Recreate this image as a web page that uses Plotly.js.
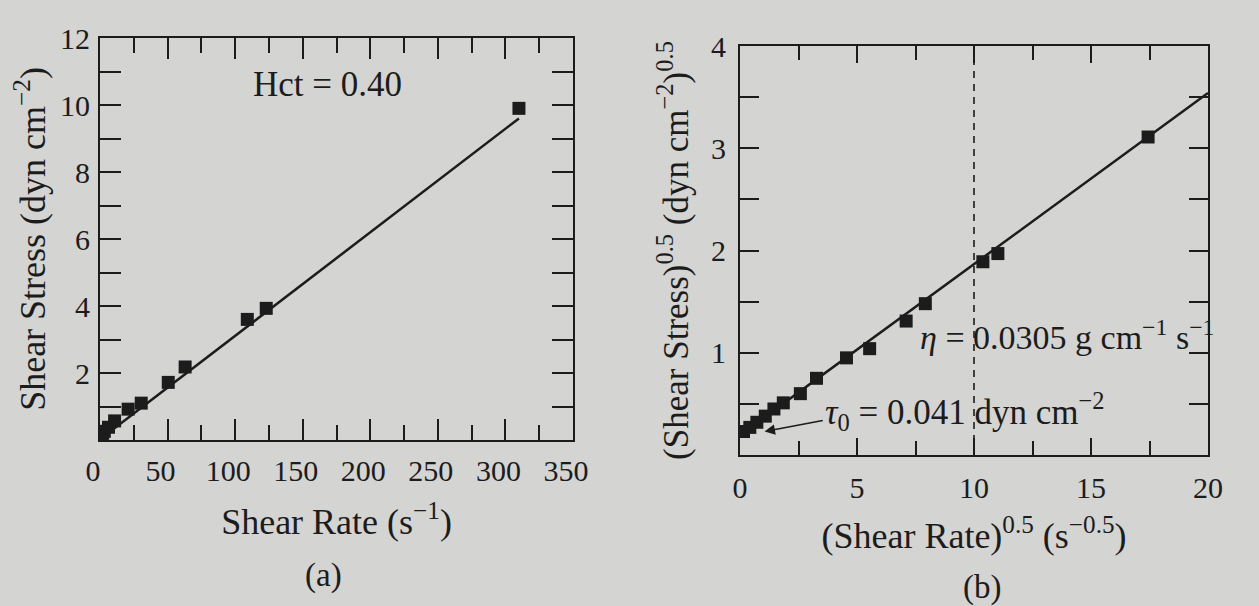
<!DOCTYPE html>
<html>
<head>
<meta charset="utf-8">
<script src="https://cdn.plot.ly/plotly-3.0.1.min.js"></script>
<style>
  html, body { margin: 0; padding: 0; background: #d4d4d2; }
  #chart { width: 1259px; height: 606px; }
</style>
</head>
<body>
<div id="chart"></div>
<script>
// ---- Data ----
// (a) Shear stress vs shear rate, Hct = 0.40
const shearRateA   = [0.02, 0.14, 0.45, 1.0, 2.0, 3.2, 6.3, 10.8, 20.8, 30.5, 50.5, 63, 109, 123, 310];
const shearStressA = [0.05, 0.07, 0.10, 0.14, 0.20, 0.26, 0.38, 0.57, 0.92, 1.10, 1.72, 2.18, 3.60, 3.93, 9.9];
const fitRateA     = [0, 310];
const fitStressA   = [0.02, 9.6];

// (b) Casson plot: (shear stress)^0.5 vs (shear rate)^0.5
const rootRateB    = [0.15, 0.42, 0.72, 1.08, 1.45, 1.85, 2.58, 3.27, 4.55, 5.54, 7.10, 7.92, 10.38, 11.02, 17.44];
const rootStressB  = [0.23, 0.27, 0.32, 0.38, 0.45, 0.51, 0.60, 0.75, 0.95, 1.04, 1.31, 1.48, 1.89, 1.97, 3.11];
const fitRootRateB   = [0.1, 20];
const fitRootStressB = [0.21, 3.54];
const referenceRootRate = 10;

// Tick labels
const xTickValsA = [0, 50, 100, 150, 200, 250, 300, 350];
const yTickValsA = [2, 4, 6, 8, 10, 12];
const xTickValsB = [0, 5, 10, 15, 20];
const yTickValsB = [1, 2, 3, 4];

// Annotation texts
const hctLabel = 'Hct = 0.40';
const etaLabel = '<i>η</i> = 0.0305 g cm<sup>−1</sup> s<sup>−1</sup>';
const tauLabel = '<i>τ</i><sub>0</sub> = 0.041 dyn cm<sup>−2</sup>';

const ink = '#1c1c1c';
const W = 1259, H = 606;
const M = {l: 70, r: 40, t: 30, b: 10};
const PW = W - M.l - M.r, PH = H - M.t - M.b;
const fx = px => (px - M.l) / PW;          // pixel column -> paper fraction
const fy = py => (H - M.b - py) / PH;      // pixel row -> paper fraction
const titleSize = 36;

function axisBase(extra) {
  return Object.assign({
    showline: true, mirror: 'ticks', linecolor: ink, linewidth: 2,
    ticks: 'inside', tickwidth: 2, tickcolor: ink,
    showgrid: false, zeroline: false, fixedrange: true, automargin: true,
    tickfont: {size: 30, color: ink}
  }, extra);
}

const traces = [
  {x: fitRateA, y: fitStressA, xaxis: 'x', yaxis: 'y', mode: 'lines',
   line: {color: ink, width: 2.5}, hoverinfo: 'skip'},
  {x: shearRateA, y: shearStressA, xaxis: 'x', yaxis: 'y', mode: 'markers',
   marker: {symbol: 'square', size: 13, color: ink}},
  {x: fitRootRateB, y: fitRootStressB, xaxis: 'x2', yaxis: 'y2', mode: 'lines',
   line: {color: ink, width: 2.5}, hoverinfo: 'skip'},
  {x: rootRateB, y: rootStressB, xaxis: 'x2', yaxis: 'y2', mode: 'markers',
   marker: {symbol: 'square', size: 13, color: ink}}
];

const layout = {
  width: W, height: H,
  margin: M,
  paper_bgcolor: '#d4d4d2', plot_bgcolor: 'rgba(0,0,0,0)',
  font: {family: '"Liberation Serif", "DejaVu Serif", serif', size: 30, color: ink},
  showlegend: false,
  xaxis: axisBase({
    domain: [fx(100), fx(573)], anchor: 'y', range: [0, 350],
    tickvals: xTickValsA, ticklen: 21,
    minor: {dtick: 25, tick0: 0, ticklen: 15, tickwidth: 2, tickcolor: ink, ticks: 'inside'},
    ticklabelstandoff: 3, ticklabelshift: -7,
    title: {text: 'Shear Rate (s<sup>−1</sup>)', font: {size: titleSize, color: ink}, standoff: 23}
  }),
  yaxis: axisBase({
    domain: [fy(440), fy(38)], anchor: 'x', range: [0, 12],
    tickvals: yTickValsA, ticklen: 21,
    minor: {dtick: 1, tick0: 0, ticklen: 21, tickwidth: 2, tickcolor: ink, ticks: 'inside'},
    ticklabelstandoff: 2,
    title: {text: 'Shear Stress (dyn cm<sup>−2</sup>)', font: {size: titleSize, color: ink}, standoff: 3}
  }),
  xaxis2: axisBase({
    domain: [fx(740), fx(1208)], anchor: 'y2', range: [0, 20],
    tickvals: xTickValsB, ticklen: 17,
    minor: {dtick: 2.5, tick0: 0, ticklen: 14, tickwidth: 2, tickcolor: ink, ticks: 'inside'},
    ticklabelstandoff: 5,
    title: {text: '(Shear Rate)<sup>0.5</sup> (s<sup>−0.5</sup>)', font: {size: titleSize, color: ink}, standoff: 20}
  }),
  yaxis2: axisBase({
    domain: [fy(455), fy(46)], anchor: 'x2', range: [0, 4],
    tickvals: yTickValsB, ticklen: 19,
    minor: {dtick: 0.5, tick0: 0, ticklen: 19, tickwidth: 2, tickcolor: ink, ticks: 'inside'},
    ticklabelstandoff: 6,
    title: {text: '(Shear Stress)<sup>0.5</sup> (dyn cm<sup>−2</sup>)<sup>0.5</sup>', font: {size: 35, color: ink}, standoff: 12}
  }),
  shapes: [
    {type: 'line', xref: 'x2', yref: 'y2 domain', x0: referenceRootRate, x1: referenceRootRate, y0: 0, y1: 1,
     line: {color: ink, width: 1.6, dash: '7px,6px'}}
  ],
  annotations: [
    {xref: 'x', yref: 'y', x: 112, y: 10.6, text: hctLabel, showarrow: false,
     xanchor: 'left', yanchor: 'middle', font: {size: 35, color: ink}},
    {xref: 'x2', yref: 'y2', x: 7.6, y: 1.17, text: etaLabel, showarrow: false,
     xanchor: 'left', yanchor: 'middle', font: {size: 34, color: ink}},
    {xref: 'x2', yref: 'y2', x: 3.55, y: 0.43, text: tauLabel, showarrow: false,
     xanchor: 'left', yanchor: 'middle', font: {size: 35, color: ink}},
    {xref: 'x2', yref: 'y2', x: 1.05, y: 0.23, axref: 'x2', ayref: 'y2', ax: 3.6, ay: 0.34,
     text: '', showarrow: true, arrowhead: 2, arrowsize: 1.3, arrowwidth: 1.6, arrowcolor: ink},
    {xref: 'paper', yref: 'paper', x: fx(323), y: fy(575), text: '(a)', showarrow: false,
     xanchor: 'center', yanchor: 'middle', font: {size: 33, color: ink}},
    {xref: 'paper', yref: 'paper', x: fx(982), y: fy(587), text: '(b)', showarrow: false,
     xanchor: 'center', yanchor: 'middle', font: {size: 33, color: ink}}
  ]
};

Plotly.newPlot('chart', traces, layout, {displayModeBar: false, staticPlot: true});
</script>
</body>
</html>
